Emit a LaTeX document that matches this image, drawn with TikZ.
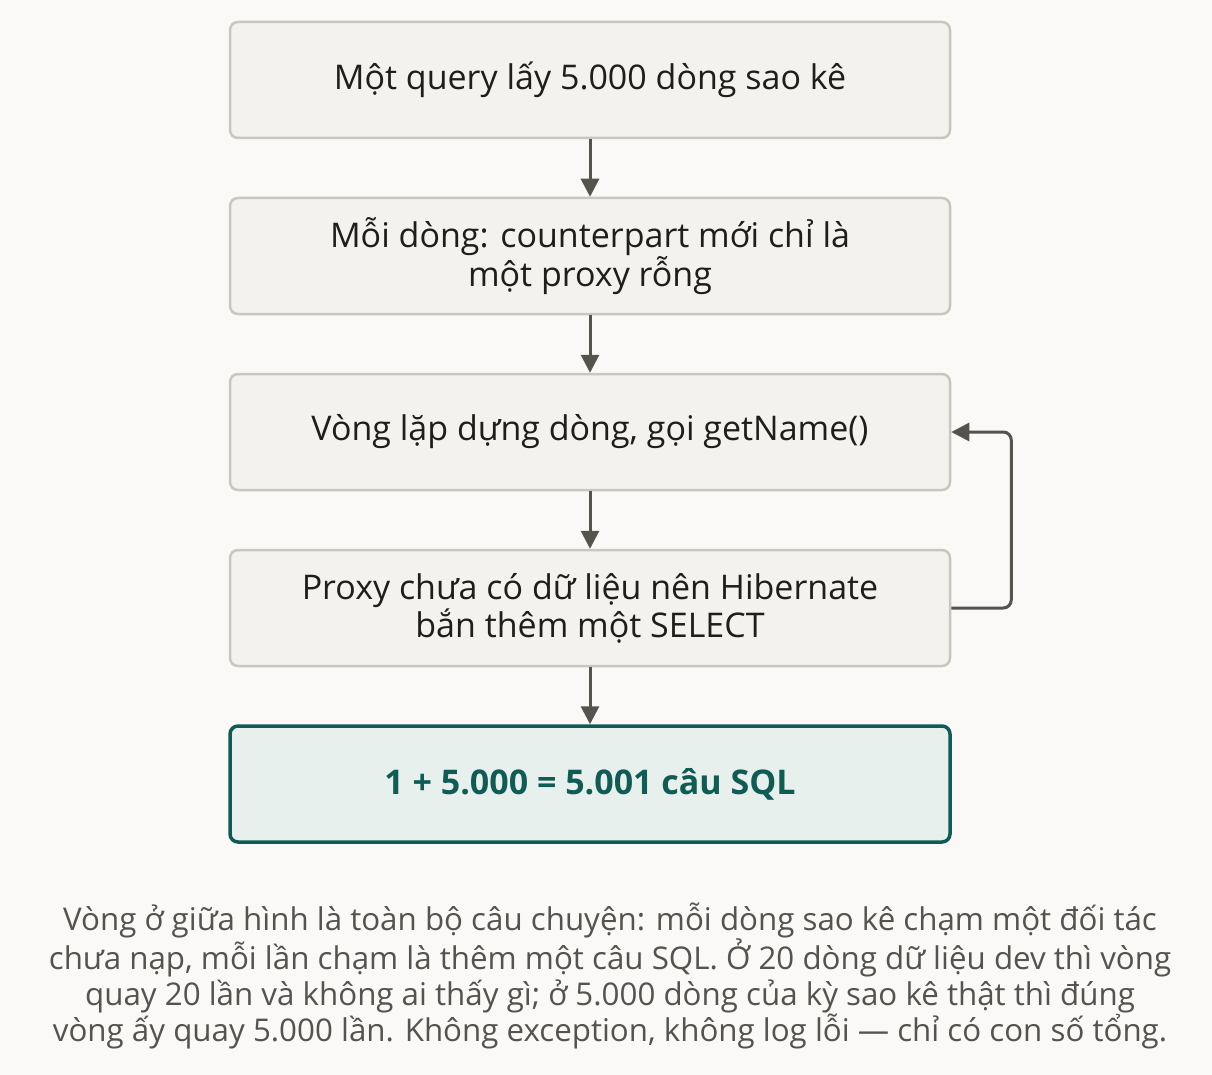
\documentclass[tikz,border=0pt]{standalone}
\usepackage{fontspec}
\setmainfont{Open Sans}
\usetikzlibrary{arrows.meta}
\definecolor{pagebg}{HTML}{FAF9F7}
\definecolor{boxfill}{HTML}{F3F2EF}
\definecolor{boxline}{HTML}{C9C6BF}
\definecolor{ink}{HTML}{1F1E1C}
\definecolor{arrowgrey}{HTML}{55534D}
\definecolor{resultfill}{HTML}{E8F0EE}
\definecolor{resultline}{HTML}{0F5C55}

\begin{document}
\begin{tikzpicture}[x=1pt,y=-1pt,
  stepbox/.style={rectangle,rounded corners=8pt,draw=boxline,line width=2.5pt,fill=boxfill,
    minimum width=720pt,minimum height=116pt,align=center,text=ink,
    font=\fontsize{34}{38}\selectfont},
  resultbox/.style={stepbox,draw=resultline,line width=3.5pt,fill=resultfill,text=resultline,
    font=\fontsize{34}{38}\selectfont\bfseries},
  note/.style={align=center,text=arrowgrey,font=\fontsize{31.3}{36}\selectfont},
  flow/.style={draw=arrowgrey,line width=3pt,-{Triangle[width=18pt,length=18pt]}}]

  \fill[pagebg] (0,0) rectangle (1212,1075);

  \node[stepbox] (n1) at (590,80)  {\raisebox{-3pt}{Một query lấy 5.000 dòng sao kê}};
  \node[stepbox] (n2) at (590,256) {Mỗi dòng: counterpart mới chỉ là\\một proxy rỗng};
  \node[stepbox] (n3) at (590,432) {\raisebox{-3pt}{Vòng lặp dựng dòng, gọi getName()}};
  \node[stepbox] (n4) at (590,608) {Proxy chưa có dữ liệu nên Hibernate\\bắn thêm một SELECT};
  \node[resultbox] (n5) at (590,784) {\raisebox{-3pt}{1 + 5.000 = 5.001 câu SQL}};
  \foreach \from/\to in {n1/n2,n2/n3,n3/n4,n4/n5}
    \draw[flow] (\from) -- (\to);
  \draw[flow,rounded corners=8pt] (n4.east) -- ++(60,0) |- (n3.east);

  \node[note] (cap) at (610,976) {Vòng ở giữa hình là toàn bộ câu chuyện: mỗi dòng sao kê chạm một đối tác\\
    chưa nạp, mỗi lần chạm là thêm một câu SQL. Ở 20 dòng dữ liệu dev thì vòng\\
    quay 20 lần và không ai thấy gì; ở 5.000 dòng của kỳ sao kê thật thì đúng\\
    vòng ấy quay 5.000 lần. Không exception, không log lỗi — chỉ có con số tổng.};
\end{tikzpicture}
\end{document}
